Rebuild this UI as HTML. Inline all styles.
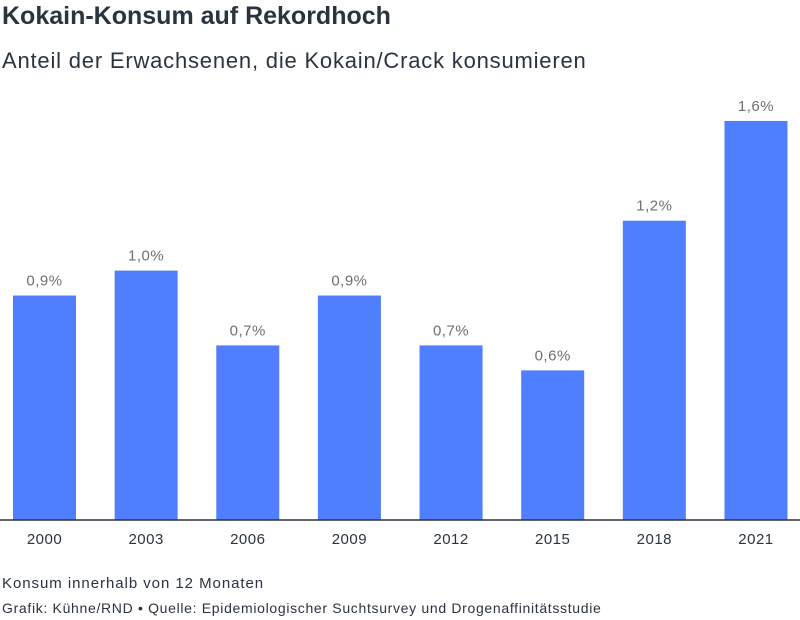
<!DOCTYPE html>
<html><head><meta charset="utf-8">
<style>
body{margin:0;width:800px;height:620px;background:#fff;font-family:"Liberation Sans",sans-serif;overflow:hidden;position:relative}
.t{position:absolute;left:2px;white-space:nowrap}
</style></head><body>
<div class="t" style="top:2px;font-size:25px;font-weight:bold;color:#2a3440">Kokain-Konsum auf Rekordhoch</div>
<div class="t" style="top:48px;font-size:22px;letter-spacing:0.8px;color:#2a3440">Anteil der Erwachsenen, die Kokain/Crack konsumieren</div>
<svg id="c" width="800" height="560" style="position:absolute;left:0;top:0"></svg>
<div class="t" style="top:575px;font-size:15px;letter-spacing:0.95px;color:#2a3440">Konsum innerhalb von 12 Monaten</div>
<div class="t" style="top:600px;font-size:14px;letter-spacing:0.68px;color:#2a3440">Grafik: Kühne/RND • Quelle: Epidemiologischer Suchtsurvey und Drogenaffinitätsstudie</div>
<script>
const categories=["2000","2003","2006","2009","2012","2015","2018","2021"];
const values=[0.9,1.0,0.7,0.9,0.7,0.6,1.2,1.6];
const valueLabels=["0,9%","1,0%","0,7%","0,9%","0,7%","0,6%","1,2%","1,6%"];
const NS="http://www.w3.org/2000/svg";
const svg=document.getElementById("c");
const base=520,pxPer=249.4,pitch=101.64,x0=44.5,bw=63;
const y=v=>base-v*pxPer;
const xc=i=>x0+i*pitch;
function mk(t,a){const e=document.createElementNS(NS,t);for(const k in a)e.setAttribute(k,a[k]);svg.appendChild(e);return e;}
categories.forEach((c,i)=>{
 const r=mk("rect",{x:xc(i)-bw/2,y:y(values[i]),width:bw,height:base-y(values[i]),fill:"#4f7ffe"});
 
 
 const vl=mk("text",{x:xc(i),y:y(values[i])-10,"text-anchor":"middle","font-size":"15","letter-spacing":"0.5",fill:"#707070","font-family":"Liberation Sans"});
 vl.textContent=valueLabels[i];
 
 
 const xl=mk("text",{x:xc(i),y:544,"text-anchor":"middle","font-size":"15","letter-spacing":"0.5",fill:"#2a3440","font-family":"Liberation Sans"});
 xl.textContent=c;
 
 
});
const ax=mk("line",{x1:0,x2:800,y1:base,y2:base,stroke:"#2a3440","stroke-width":1.5});


</script>
</body></html>
